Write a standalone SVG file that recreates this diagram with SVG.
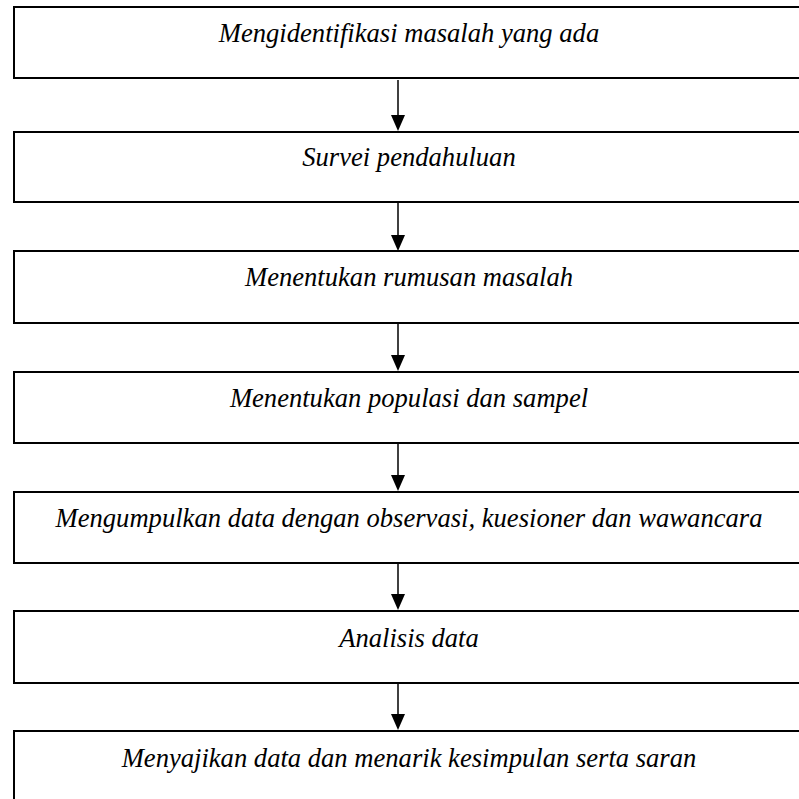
<svg xmlns="http://www.w3.org/2000/svg" width="799" height="799" viewBox="0 0 799 799">
<style>
.box{fill:#fff;stroke:#000;stroke-width:2}
.lbl{font-family:"Liberation Serif","Times New Roman",serif;font-style:italic;font-size:26.6px;fill:#000;text-anchor:middle}
.con{stroke:#000;stroke-width:1.5;fill:none}
.head{fill:#000}
</style>
<rect width="799" height="799" fill="#fff"/>
<g id="connectors">
<path class="con" d="M398,80 V116"/><path class="head" d="M391,115 L405,115 L398,131 z"/>
<path class="con" d="M398,203 V236"/><path class="head" d="M391,235 L405,235 L398,251 z"/>
<path class="con" d="M398,324 V356"/><path class="head" d="M391,355 L405,355 L398,371 z"/>
<path class="con" d="M398,444 V476"/><path class="head" d="M391,475 L405,475 L398,491 z"/>
<path class="con" d="M398,564 V595"/><path class="head" d="M391,594 L405,594 L398,610 z"/>
<path class="con" d="M398,684 V715"/><path class="head" d="M391,714 L405,714 L398,730 z"/>
</g>
<g id="n1"><rect class="box" x="14" y="7" width="800" height="71"/><text class="lbl" x="409" y="42">Mengidentifikasi masalah yang ada</text></g>
<g id="n2"><rect class="box" x="14" y="132" width="800" height="70"/><text class="lbl" x="409" y="166">Survei pendahuluan</text></g>
<g id="n3"><rect class="box" x="14" y="251" width="800" height="72"/><text class="lbl" x="409" y="286">Menentukan rumusan masalah</text></g>
<g id="n4"><rect class="box" x="14" y="372" width="800" height="71"/><text class="lbl" x="409" y="407">Menentukan populasi dan sampel</text></g>
<g id="n5"><rect class="box" x="14" y="492" width="800" height="71"/><text class="lbl" x="409" y="527">Mengumpulkan data dengan observasi, kuesioner dan wawancara</text></g>
<g id="n6"><rect class="box" x="14" y="611" width="800" height="72"/><text class="lbl" x="409" y="647">Analisis data</text></g>
<g id="n7"><rect class="box" x="14" y="731" width="800" height="90"/><text class="lbl" x="409" y="767">Menyajikan data dan menarik kesimpulan serta saran</text></g>
</svg>
